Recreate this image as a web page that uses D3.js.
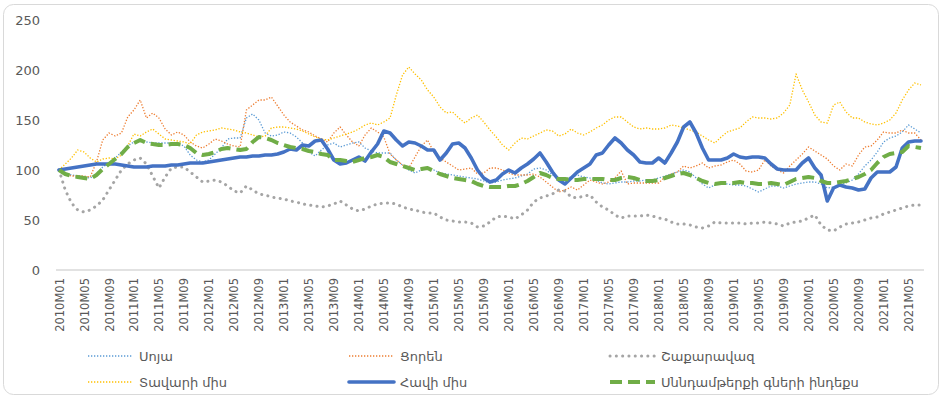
<!DOCTYPE html>
<html>
<head>
<meta charset="utf-8">
<script src="https://d3js.org/d3.v7.min.js"></script>
<style>
  body { margin: 0; background: #fff; }
  text { font-family: "DejaVu Sans", "Noto Sans", sans-serif; fill: #595959; }
</style>
</head>
<body>
<svg id="chart" width="942" height="400"></svg>
<script>
// ---- data (index 2010M01 = 100) ----
var months = [];
for (var y = 2010; y <= 2021; y++) {
  for (var m = 1; m <= 12; m++) {
    if (y == 2021 && m > 7) break;
    months.push(y + "M" + (m < 10 ? "0" + m : m));
  }
}
var tickLabels = months.filter(function(d, i) { return i % 4 == 0; });

var soy = [100,97,95,94,93,92,96,103,107,112,118,124,
  128,129,128,127,127,127,127,127,124,115,110,108,
  110,116,122,131,132,132,152,156,150,137,134,135,
  138,137,133,127,118,114,120,125,127,123,125,127,
  128,122,119,117,117,117,110,105,100,97,100,101,
  100,97,96,95,94,93,92,91,89,87,88,90,
  91,92,94,96,101,102,100,95,91,91,93,95,
  93,92,90,87,86,87,88,88,89,89,90,90,
  92,94,96,98,100,98,92,86,82,85,87,86,
  85,85,84,81,78,81,84,84,82,84,86,87,
  88,88,86,82,83,85,87,90,96,104,110,118,
  128,132,134,138,145,141,137];

var wheat = [100,96,94,94,94,93,108,130,137,134,137,153,
  160,170,152,157,152,141,135,138,135,128,124,122,
  126,131,129,126,124,123,160,165,170,170,173,164,
  155,148,144,140,138,134,131,128,137,143,135,128,
  124,135,142,138,133,116,110,105,102,113,124,130,
  118,112,108,104,100,101,102,96,97,102,102,100,
  97,95,95,95,96,93,88,83,78,80,83,80,
  85,90,88,86,88,92,99,86,87,87,87,87,
  87,93,96,98,104,102,104,107,102,104,105,108,
  110,106,99,98,100,110,104,100,97,104,110,116,
  123,119,115,111,104,100,106,104,115,123,124,130,
  138,137,137,140,137,137,130];

var sugar = [100,80,67,60,58,60,64,70,80,90,100,106,
  110,112,106,94,82,93,102,103,103,98,93,88,
  89,90,88,84,79,77,84,80,76,75,73,72,
  71,69,68,66,65,64,63,64,66,69,65,61,
  59,61,64,66,67,67,66,63,61,60,58,57,
  57,53,50,49,48,48,47,43,44,48,53,54,
  53,51,55,60,68,72,74,76,80,79,73,72,
  74,75,68,63,60,55,52,54,54,54,55,54,
  52,51,48,46,46,45,43,42,44,48,47,47,
  47,47,46,47,47,48,47,46,44,47,48,49,
  52,55,45,40,39,43,46,47,48,50,52,53,
  56,58,60,62,64,65,65];

var beef = [100,106,112,120,118,112,108,111,112,111,115,124,
  136,134,138,141,136,131,130,129,128,126,135,138,
  139,140,142,141,140,138,137,135,133,134,142,143,
  143,142,141,139,136,133,131,130,132,134,136,138,
  141,145,147,145,148,152,175,195,203,196,190,180,
  173,163,157,158,152,147,152,155,148,140,133,125,
  120,127,132,131,134,137,140,139,134,136,141,137,
  135,138,142,145,150,153,153,148,143,141,142,141,
  141,142,145,144,142,140,138,134,130,127,133,138,
  140,142,148,153,152,152,151,152,157,165,196,180,
  168,155,148,147,165,168,158,152,152,148,146,145,
  147,150,157,170,180,187,185];

var chicken = [100,101,102,103,104,105,106,106,106,106,105,104,
  103,103,103,104,104,104,105,105,106,107,107,107,
  108,109,110,111,112,113,113,114,114,115,115,116,
  118,121,120,125,124,129,130,121,110,106,107,110,
  113,109,118,126,139,137,130,124,128,127,124,120,
  120,110,117,126,127,122,112,100,92,88,90,96,
  100,97,102,106,111,117,108,98,90,86,92,98,
  102,106,115,117,125,132,127,120,115,108,107,107,
  112,107,117,128,143,148,137,122,110,110,110,112,
  116,113,112,113,113,112,106,101,100,100,100,107,
  112,102,95,69,82,85,83,82,80,81,92,98,
  98,98,103,122,128,129,129];

var foodIndex = [100,96,94,93,92,91,95,101,106,111,116,123,
  127,130,127,126,125,125,126,126,125,122,117,115,
  116,118,121,122,121,120,121,128,133,132,130,127,
  125,123,122,121,119,118,116,115,110,110,109,108,
  110,112,113,115,113,108,106,104,102,100,101,102,
  99,96,94,92,91,90,89,86,84,83,83,83,
  84,84,86,89,93,97,95,92,91,91,90,90,
  91,91,91,91,90,90,92,93,92,90,89,89,
  90,92,94,96,97,95,92,89,87,86,87,87,
  87,88,87,87,86,86,87,86,85,88,91,92,
  93,92,89,87,87,88,89,91,93,96,100,107,
  113,116,117,118,124,123,122];

var seriesNames = ["Սոյա", "Ցորեն", "Շաքարավազ", "Տավարի միս", "Հավի միս", "Սննդամթերքի գների ինդեքս"];
var seriesValues = [soy, wheat, sugar, beef, chicken, foodIndex];
var yTicks = [0, 50, 100, 150, 200, 250];

// ---- styles ----
var styles = [
  { color: "#5B9BD5", width: 1.3, dash: "1.3,1.7", cap: "butt" },
  { color: "#ED7D31", width: 1.3, dash: "1.3,1.7", cap: "butt" },
  { color: "#A5A5A5", width: 3,   dash: "0.1,6.2", cap: "round" },
  { color: "#FFC000", width: 1.3, dash: "1.3,1.7", cap: "butt" },
  { color: "#4472C4", width: 3.6, dash: null,      cap: "round" },
  { color: "#70AD47", width: 4,   dash: "12,6",    cap: "butt" }
];

var svg = d3.select("#chart");

// outer frame
svg.append("rect")
  .attr("x", 3.5).attr("y", 4.5)
  .attr("width", 935).attr("height", 390)
  .attr("rx", 10).attr("ry", 10)
  .attr("fill", "#fff").attr("stroke", "#d9d9d9").attr("stroke-width", 1);

var x = d3.scalePoint().domain(months).range([59, 921]).padding(0);
var y = d3.scaleLinear().domain([0, 250]).range([270, 20]);

// y axis labels
svg.append("g")
  .attr("transform", "translate(40,0)")
  .call(d3.axisLeft(y).tickValues(yTicks).tickSize(0).tickPadding(0))
  .call(function(g) {
    g.select(".domain").remove();
    g.selectAll("text").style("font-size", "13px").attr("fill", "#595959");
  });

// x axis
var xAxis = svg.append("g")
  .attr("transform", "translate(0,270)")
  .call(d3.axisBottom(x).tickValues(tickLabels).tickSize(0).tickPadding(0));
xAxis.select(".domain").remove();
xAxis.append("line")
  .attr("x1", 56).attr("x2", 924)
  .attr("stroke", "#d9d9d9").attr("stroke-width", 1.5);
xAxis.selectAll("text")
  .style("font-size", "11.5px")
  .attr("fill", "#595959")
  .attr("text-anchor", "end")
  .attr("dy", "0.35em")
  .attr("transform", "translate(0,8) rotate(-90)")
  .attr("x", 0).attr("y", 0);

// lines
var line = d3.line()
  .x(function(d, i) { return x(months[i]); })
  .y(function(d) { return y(d); });

svg.append("g").selectAll("path")
  .data(seriesValues)
  .join("path")
  .attr("d", line)
  .attr("fill", "none")
  .attr("stroke", function(d, i) { return styles[i].color; })
  .attr("stroke-width", function(d, i) { return styles[i].width; })
  .attr("stroke-dasharray", function(d, i) { return styles[i].dash; })
  .attr("stroke-linecap", function(d, i) { return styles[i].cap; })
  .attr("stroke-linejoin", "round");

// legend
var legendPos = [[88, 356], [349, 356], [610, 356], [88, 382], [349, 382], [610, 382]];
var legend = svg.append("g").selectAll("g")
  .data(seriesNames)
  .join("g")
  .attr("transform", function(d, i) { return "translate(" + legendPos[i][0] + "," + legendPos[i][1] + ")"; });

legend.append("line")
  .attr("x1", 0).attr("x2", 45)
  .attr("stroke", function(d, i) { return styles[i].color; })
  .attr("stroke-width", function(d, i) { return styles[i].width; })
  .attr("stroke-dasharray", function(d, i) { return styles[i].dash; })
  .attr("stroke-linecap", function(d, i) { return styles[i].cap; });

legend.append("text")
  .attr("x", 51).attr("dy", "0.35em")
  .style("font-size", "13px")
  .text(function(d) { return d; });
</script>
</body>
</html>
